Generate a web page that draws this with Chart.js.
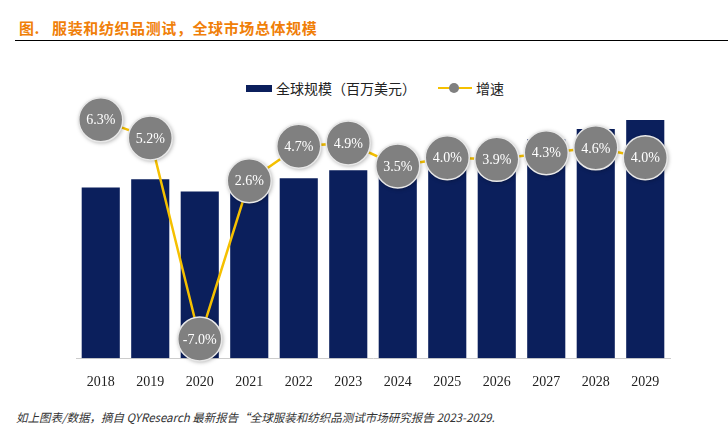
<!DOCTYPE html><html><head><meta charset="utf-8">
<script src="https://cdn.jsdelivr.net/npm/chart.js@4"></script>
<style>
body{margin:0;width:728px;height:443px;position:relative;background:#fff;font-family:"Noto Sans CJK SC",sans-serif;overflow:hidden}
#t{position:absolute;left:19px;top:17px;color:#f07f09;font-weight:bold;font-size:15px;letter-spacing:0.6px}
#hl{position:absolute;left:15px;right:0;top:40px;border-top:1.5px solid #000}
#lg{position:absolute;left:246px;top:78px;font-size:14px;color:#222;display:flex;align-items:center}
#fn{position:absolute;left:16px;top:409px;font-size:11.5px;color:#333;font-style:italic}
canvas{position:absolute;left:0;top:0}
</style></head><body>
<div id="t">图.&nbsp;&nbsp;&nbsp;服装和纺织品测试，全球市场总体规模</div>
<div id="hl"></div>
<div id="lg"><span style="display:inline-block;width:26px;height:7px;background:#0b1f5c;margin-right:4px"></span>全球规模（百万美元）<span style="display:inline-block;width:34px;height:14px;position:relative;margin:0 4px 0 22px"><span style="position:absolute;left:0;right:0;top:6px;border-top:2px solid #f5c000"></span><span style="position:absolute;left:11px;top:2px;width:10px;height:10px;border-radius:50%;background:#808080"></span></span>增速</div>
<div id="fn">如上图表/数据，摘自 QYResearch 最新报告“全球服装和纺织品测试市场研究报告 2023-2029.</div>
<canvas id="c" width="728" height="443"></canvas>
<script>
const years=["2018","2019","2020","2021","2022","2023","2024","2025","2026","2027","2028","2029"];
const marketSize=[170,178,166,171,179,187,193,200,209,218,228,237];
const growth=[6.3,5.2,-7.0,2.6,4.7,4.9,3.5,4.0,3.9,4.3,4.6,4.0];
const bubbles={id:'bub',afterDatasetsDraw(ch){const c=ch.ctx;const m=ch.getDatasetMeta(1);
m.data.forEach((p,i)=>{c.save();c.shadowColor='rgba(0,0,0,0.35)';c.shadowBlur=4;c.shadowOffsetX=1;c.shadowOffsetY=1;
c.beginPath();c.arc(p.x,p.y,22,0,Math.PI*2);c.fillStyle='#808080';c.fill();c.restore();
c.beginPath();c.arc(p.x,p.y,22,0,Math.PI*2);c.strokeStyle='#e8e8e8';c.lineWidth=1.5;c.stroke();
c.fillStyle='#fff';c.font='14px "Liberation Serif"';c.textAlign='center';c.textBaseline='middle';
c.fillText(growth[i].toFixed(1)+'%',p.x,p.y+1);});}};
new Chart(document.getElementById('c'),{data:{labels:years,datasets:[
{type:'bar',data:marketSize,backgroundColor:'#0b1f5c',yAxisID:'y',barPercentage:0.77,categoryPercentage:1,order:2},
{type:'line',data:growth,borderColor:'#f5c000',borderWidth:2.5,pointRadius:0,yAxisID:'y1',order:1,tension:0}]},
options:{responsive:false,animation:false,layout:{padding:{left:76,right:58,top:105,bottom:44}},
plugins:{legend:{display:false},tooltip:{enabled:false}},
scales:{x:{grid:{display:false},border:{color:'#ccc'},ticks:{color:'#222',font:{family:'Liberation Serif',size:14},padding:8}},
y:{display:false,min:0,max:252},y1:{display:false,min:-8.17,max:7.2}}},plugins:[bubbles]});
</script></body></html>
